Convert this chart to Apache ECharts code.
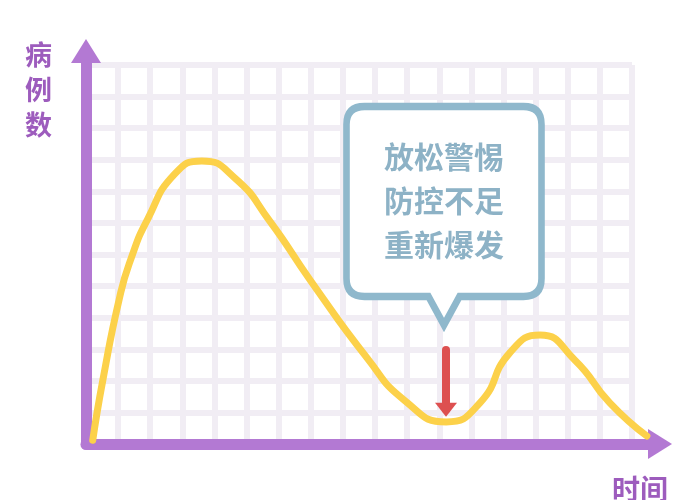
<!DOCTYPE html>
<html>
<head>
<meta charset="utf-8">
<script src="https://cdn.jsdelivr.net/npm/echarts@6/dist/echarts.min.js"></script>
<style>
html,body{margin:0;padding:0;background:#fff;}
#chart{width:700px;height:500px;}
</style>
</head>
<body>
<div id="chart"></div>
<script>
// ---- data ----
const yAxisTitle = '病\n例\n数';
const xAxisTitle = '时间';
const calloutLines = ['放松警惕', '防控不足', '重新爆发'];
// time (0-100) and case level (0-100)
const timeX = [1.2, 3.0, 6.0, 8.0, 11.0, 15.8, 20.6, 26.5, 32.7, 40.0, 50.0, 56.8, 64.1, 70.1, 75.4, 80.8, 87.0, 93.2, 99.8];
const cases = [1.0, 16.8, 38.6, 48.6, 59.1, 70.9, 74.3, 69.8, 58.5, 42.8, 22.6, 11.3, 5.8, 10.8, 23.9, 28.6, 22.0, 10.8, 2.1];
// annotation anchors (data coords)
const calloutAnchor = [63.7, 59.9];
const arrowStart = [64.06, 24.7];
const arrowEnd = [64.06, 9.0];
// lattice cells
const latticeCols = 17;
const latticeRows = 12;

const curveData = timeX.map((t, i) => [t, cases[i]]);

const bubblePath = 'path://M18,0 L177,0 Q195,0 195,18 L195,172 Q195,190 177,190 L113,190 L97.5,218.5 L82,190 L18,190 Q0,190 0,172 L0,18 Q0,0 18,0 Z';

const chart = echarts.init(document.getElementById('chart'), null, {renderer: 'canvas'});
const purple = '#b379d3';
const option = {
  animation: false,
  backgroundColor: '#ffffff',
  title: [
    {text: yAxisTitle, left: 25, top: 37, padding: 0,
     textStyle: {fontFamily: 'Noto Sans CJK SC', fontSize: 27, lineHeight: 35, fontWeight: 'bold', color: '#9d5cbd'}},
    {text: xAxisTitle, left: 612, top: 474, padding: 0,
     textStyle: {fontFamily: 'Noto Sans CJK SC', fontSize: 28, lineHeight: 30, fontWeight: 'bold', color: '#9d5cbd'}}
  ],
  grid: [
    {left: 86, right: 68, top: 65, bottom: 56},
    {left: 86, right: 52, top: 63, bottom: 56}
  ],
  xAxis: [
    {gridIndex: 0, type: 'value', min: 0, max: latticeCols, interval: 1,
     axisLine: {show: false}, axisTick: {show: false}, axisLabel: {show: false},
     splitLine: {show: true, lineStyle: {color: '#f1edf4', width: 6}}},
    {gridIndex: 1, type: 'value', min: 0, max: 100,
     axisLine: {show: true, symbol: ['none', 'triangle'], symbolSize: [30, 24], symbolOffset: [0, 12],
       lineStyle: {color: purple, width: 11, cap: 'round'}},
     axisTick: {show: false}, axisLabel: {show: false}, splitLine: {show: false}}
  ],
  yAxis: [
    {gridIndex: 0, type: 'value', min: 0, max: latticeRows, interval: 1,
     axisLine: {show: false}, axisTick: {show: false}, axisLabel: {show: false},
     splitLine: {show: true, lineStyle: {color: '#f1edf4', width: 6}}},
    {gridIndex: 1, type: 'value', min: 0, max: 100,
     axisLine: {show: true, symbol: ['none', 'triangle'], symbolSize: [30, 24], symbolOffset: [0, 12],
       lineStyle: {color: purple, width: 11, cap: 'round'}},
     axisTick: {show: false}, axisLabel: {show: false}, splitLine: {show: false}}
  ],
  series: [
    {
      type: 'line', xAxisIndex: 1, yAxisIndex: 1,
      data: curveData, smooth: 0.55, showSymbol: false, symbol: 'none',
      lineStyle: {color: '#fcd14a', width: 7, cap: 'round', join: 'round'},
      z: 3,
      markLine: {
        silent: true, symbol: ['none', 'triangle'], symbolSize: [22, 14],
        label: {show: false},
        lineStyle: {color: '#dd5050', width: 8, type: 'solid', cap: 'round'},
        data: [[{coord: arrowStart}, {coord: arrowEnd}]]
      },
      markPoint: {
        silent: true,
        symbol: bubblePath, symbolSize: [195, 218.5], symbolKeepAspect: false,
        itemStyle: {color: '#ffffff', borderColor: '#8fb8cc', borderWidth: 7},
        label: {show: true, position: 'inside', offset: [0, -15],
          formatter: calloutLines.join('\n'),
          fontFamily: 'Noto Sans CJK SC', fontSize: 30, fontWeight: 'bold', lineHeight: 44, color: '#8db2c6'},
        data: [{coord: calloutAnchor}]
      }
    }
  ]
};
chart.setOption(option);
</script>
</body>
</html>
